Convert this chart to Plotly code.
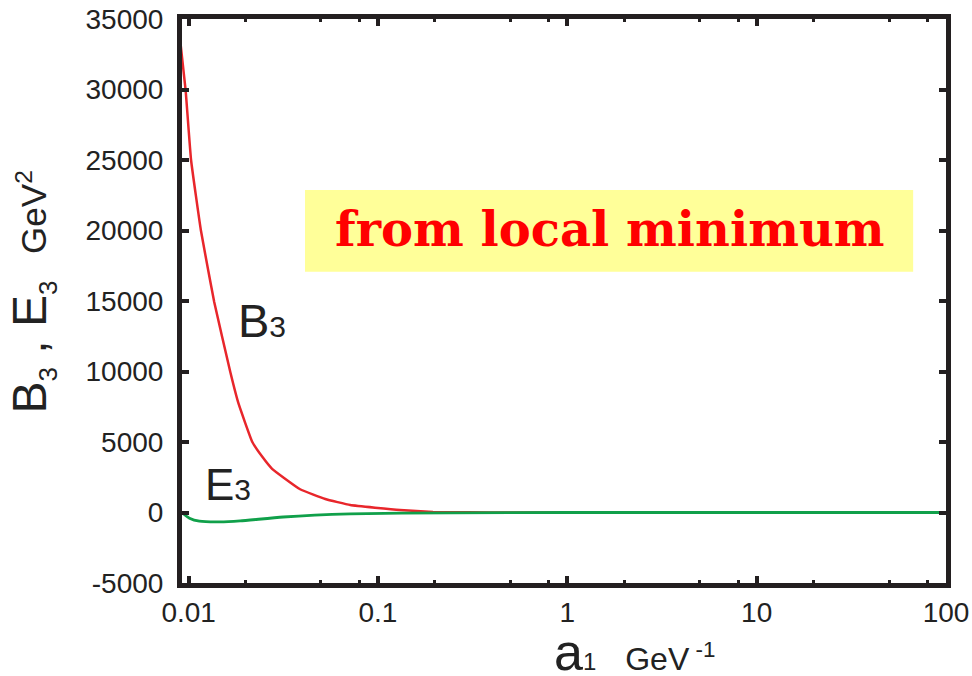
import plotly.graph_objects as go

# ---- data ----
a1_B = [0.00908, 0.00964, 0.0103, 0.0116, 0.01268, 0.01365, 0.0166, 0.0183,
        0.0217, 0.0245, 0.0276, 0.0388, 0.0527, 0.0714, 0.1307, 0.1953, 0.3, 0.5, 1, 3, 10, 30, 100]
B3 = [33150, 29960, 25000, 20040, 17200, 14930, 9960, 7770,
      5000, 3950, 3100, 1650, 960, 530, 180, 40, 10, 0, 0, 0, 0, 0, 0]

a1_E = [0.00918, 0.0101, 0.0114, 0.0146, 0.0187, 0.0316, 0.0714, 0.242, 1, 10, 100]
E3 = [0, -400, -620, -670, -600, -320, -100, -20, 0, 0, 0]

x_tickvals = [0.01, 0.1, 1, 10, 100]
x_ticktext = ["0.01", "0.1", "1", "10", "100"]
x_minor = [m * d for d in [0.001, 0.01, 0.1, 1, 10] for m in (2, 5, 8)]
y_tickvals = [-5000, 0, 5000, 10000, 15000, 20000, 25000, 30000, 35000]
y_ticktext = ["-5000", "0", "5000", "10000", "15000", "20000", "25000", "30000", "35000"]

RED = "#e8262b"
GREEN = "#10a04a"
AXC = "#231f20"

fig = go.Figure()
fig.add_trace(go.Scatter(x=a1_B, y=B3, mode="lines",
                         line=dict(color=RED, width=2.5, shape="spline", smoothing=0.35),
                         showlegend=False))
fig.add_trace(go.Scatter(x=a1_E, y=E3, mode="lines",
                         line=dict(color=GREEN, width=2.8, shape="spline", smoothing=0.6),
                         showlegend=False))

tickfont = dict(family="Liberation Sans, Arial, sans-serif", size=28, color="#222")

fig.update_layout(
    width=972, height=676,
    margin=dict(l=182, r=26, t=19, b=93),
    paper_bgcolor="white", plot_bgcolor="white",
    font=dict(family="Liberation Sans, Arial, sans-serif", color="#222"),
    xaxis=dict(type="log", range=[-2.035, 2.0], showgrid=False, zeroline=False, automargin=False,
               showline=True, linewidth=5, linecolor=AXC, mirror="ticks",
               ticks="inside", ticklen=7, tickwidth=3.5, tickcolor=AXC,
               tickmode="array", tickvals=x_tickvals, ticktext=x_ticktext,
               tickfont=tickfont, ticklabelstandoff=0,
               minor=dict(tickmode="array", tickvals=x_minor, ticks="inside", ticklen=3,
                          tickwidth=3, tickcolor=AXC, showgrid=False)),
    yaxis=dict(range=[-5000, 35000], showgrid=False, zeroline=False, automargin=False,
               showline=True, linewidth=5, linecolor=AXC, mirror="ticks",
               ticks="inside", ticklen=7, tickwidth=4, tickcolor=AXC,
               tickmode="array", tickvals=y_tickvals, ticktext=y_ticktext,
               tickfont=tickfont, ticklabelstandoff=8),
)

# yellow box with label
fig.add_shape(type="rect", xref="paper", yref="paper", x0=0.161, x1=0.957, y0=0.552, y1=0.697,
              fillcolor="#ffff99", line=dict(width=0), layer="below")
fig.add_annotation(xref="paper", yref="paper", x=0.560, y=0.627, xanchor="center", yanchor="middle",
                   text="from local minimum", showarrow=False,
                   font=dict(family="DejaVu Serif, serif", size=48, color="#ff0000", weight="bold"))

# curve labels
fig.add_annotation(xref="paper", yref="paper", x=0.105, y=0.466, xanchor="center", yanchor="middle",
                   text="B<span style='font-size:30px'>3</span>", showarrow=False,
                   font=dict(size=47, color="#222"))
fig.add_annotation(xref="paper", yref="paper", x=0.060, y=0.175, xanchor="center", yanchor="middle",
                   text="E<span style='font-size:30px'>3</span>", showarrow=False,
                   font=dict(size=44, color="#222"))

# axis titles
fig.add_annotation(xref="paper", yref="paper", x=-0.195, y=0.515, xanchor="center", yanchor="middle",
                   textangle=-90, showarrow=False,
                   text="B<sub><span style='font-size:26px'>3</span></sub> , E<sub><span style='font-size:26px'>3</span></sub>  "
                        "<span style='font-size:35px'>GeV<sup>2</sup></span>",
                   font=dict(size=48, color="#222"))
fig.add_annotation(xref="paper", yref="paper", x=0.592, y=-0.122, xanchor="center", yanchor="middle",
                   showarrow=False,
                   text="a<span style='font-size:24px'>1</span>  "
                        "<span style='font-size:32px'>GeV<sup> -1</sup></span>",
                   font=dict(size=52, color="#222"))

fig.write_html("out.html")
